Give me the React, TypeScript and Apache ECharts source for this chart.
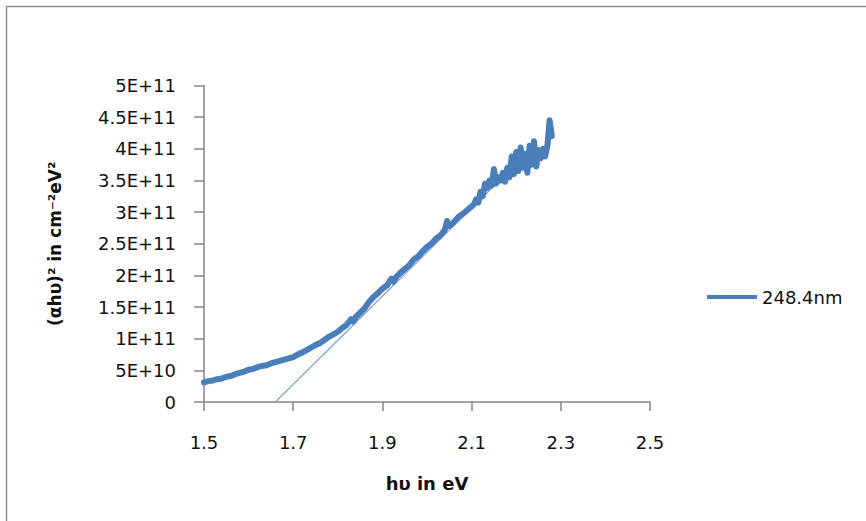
import React, { useEffect, useRef } from "react";
import * as echarts from "echarts";

const seriesName = "248.4nm";
const xTitle = "hυ in eV";
const yTitle = "(αhυ)² in cm⁻²eV²";

const photonEnergy = [
  1.5, 1.51, 1.52, 1.53, 1.54, 1.55, 1.56, 1.57, 1.58, 1.59,
  1.6, 1.61, 1.62, 1.63, 1.64, 1.65, 1.66, 1.67, 1.68, 1.69,
  1.7, 1.71, 1.72, 1.73, 1.74, 1.75, 1.76, 1.77, 1.78, 1.79,
  1.8, 1.81, 1.82, 1.83, 1.835, 1.84, 1.85, 1.86, 1.87, 1.88, 1.89,
  1.9, 1.91, 1.92, 1.925, 1.93, 1.94, 1.95, 1.96, 1.97, 1.98, 1.99,
  2.0, 2.01, 2.02, 2.03, 2.04, 2.045, 2.05, 2.06, 2.07, 2.08, 2.09,
  2.1, 2.105, 2.11, 2.115, 2.12, 2.125, 2.13, 2.135, 2.14, 2.145,
  2.15, 2.155, 2.16, 2.165, 2.17, 2.175, 2.18, 2.185, 2.19, 2.195,
  2.2, 2.205, 2.21, 2.215, 2.22, 2.225, 2.23, 2.235, 2.24, 2.245,
  2.25, 2.255, 2.26, 2.265, 2.27, 2.275, 2.28,
];

// (αhυ)² in units of 1E+11
const absorption = [
  0.31, 0.33, 0.34, 0.36, 0.37, 0.4, 0.41, 0.44, 0.46, 0.48,
  0.51, 0.52, 0.55, 0.57, 0.58, 0.61, 0.63, 0.65, 0.67, 0.69,
  0.71, 0.75, 0.78, 0.82, 0.86, 0.9, 0.93, 0.98, 1.03, 1.07,
  1.11, 1.17, 1.22, 1.31, 1.27, 1.34, 1.41, 1.48, 1.58, 1.66, 1.72,
  1.79, 1.84, 1.95, 1.9, 1.97, 2.04, 2.1, 2.16, 2.25, 2.3, 2.38,
  2.45, 2.5, 2.58, 2.63, 2.72, 2.86, 2.78, 2.84, 2.92, 2.97, 3.03,
  3.09, 3.12, 3.2, 3.15, 3.32, 3.25, 3.45, 3.38, 3.5, 3.42,
  3.68, 3.45, 3.55, 3.5, 3.62, 3.48, 3.7, 3.55, 3.88, 3.6,
  3.95, 3.65, 4.02, 3.7, 3.92, 3.62, 4.05, 3.75, 4.12, 3.72,
  3.98, 3.85, 4.0, 3.88, 4.05, 4.45, 4.2,
];

const tangentX = [1.66, 2.18];
const tangentY = [0, 3.62];

const xTicks = [1.5, 1.7, 1.9, 2.1, 2.3, 2.5];
const scale = 1e11;

function sciLabel(v: number): string {
  if (v === 0) return "0";
  const exp = Math.floor(Math.log10(v) + 1e-9);
  const mant = Math.round((v / Math.pow(10, exp)) * 100) / 100;
  return `${mant}E+${exp}`;
}

export default function App() {
  const ref = useRef<HTMLDivElement>(null);
  useEffect(() => {
    document.body.style.margin = "0";
    if (!ref.current) return;
    const chart = echarts.init(ref.current, undefined, { renderer: "svg" });
    const font = "DejaVu Sans";
    const axisColor = "#868686";
    const textColor = "#111111";
    chart.setOption({
      animation: false,
      backgroundColor: "#ffffff",
      textStyle: { fontFamily: font },
      graphic: [
        {
          type: "rect",
          shape: { x: 6.5, y: 6.5, width: 900, height: 600 },
          style: { fill: "none", stroke: "#8f8f8f", lineWidth: 1.5 },
          silent: true,
        },
      ],
      legend: {
        data: [seriesName],
        left: 702,
        top: 283,
        icon: "rect",
        itemWidth: 50,
        itemHeight: 4,
        itemGap: 6,
        textStyle: { fontFamily: font, fontSize: 18, color: textColor },
      },
      grid: { left: 204, top: 85.5, width: 446, height: 316.5, containLabel: false },
      xAxis: {
        type: "value",
        min: xTicks[0],
        max: xTicks[xTicks.length - 1],
        interval: 0.2,
        name: xTitle,
        nameLocation: "middle",
        nameGap: 72,
        nameTextStyle: { fontFamily: font, fontSize: 18, fontWeight: "bold", color: textColor },
        axisLine: { show: true, lineStyle: { color: axisColor, width: 1.5 } },
        axisTick: { show: true, length: 9, lineStyle: { color: axisColor, width: 1.5 } },
        axisLabel: {
          margin: 31,
          fontFamily: font,
          fontSize: 18,
          color: textColor,
          formatter: (v: number) => v.toFixed(1),
        },
        splitLine: { show: false },
      },
      yAxis: {
        type: "value",
        min: 0,
        max: 5 * scale,
        interval: 0.5 * scale,
        name: yTitle,
        nameLocation: "middle",
        nameRotate: 90,
        nameGap: 141,
        nameTextStyle: { fontFamily: font, fontSize: 17, fontWeight: "bold", color: textColor },
        axisLine: { show: true, lineStyle: { color: axisColor, width: 1.5 } },
        axisTick: { show: true, length: 10, lineStyle: { color: axisColor, width: 1.5 } },
        axisLabel: {
          margin: 28,
          fontFamily: font,
          fontSize: 18,
          color: textColor,
          formatter: (v: number) => sciLabel(v),
        },
        splitLine: { show: false },
      },
      series: [
        {
          name: seriesName,
          type: "line",
          data: photonEnergy.map((x, i) => [x, absorption[i] * scale]),
          showSymbol: false,
          symbol: "none",
          lineStyle: { color: "#4a7ebb", width: 6, join: "round", cap: "round" },
          itemStyle: { color: "#4a7ebb" },
          z: 3,
        },
        {
          name: "tangent",
          type: "line",
          data: tangentX.map((x, i) => [x, tangentY[i] * scale]),
          showSymbol: false,
          symbol: "none",
          lineStyle: { color: "#7ea5d8", width: 1.3 },
          itemStyle: { color: "#7ea5d8" },
          z: 2,
        },
      ],
    });
    return () => chart.dispose();
  }, []);
  return <div ref={ref} style={{ width: 866, height: 521 }} />;
}
